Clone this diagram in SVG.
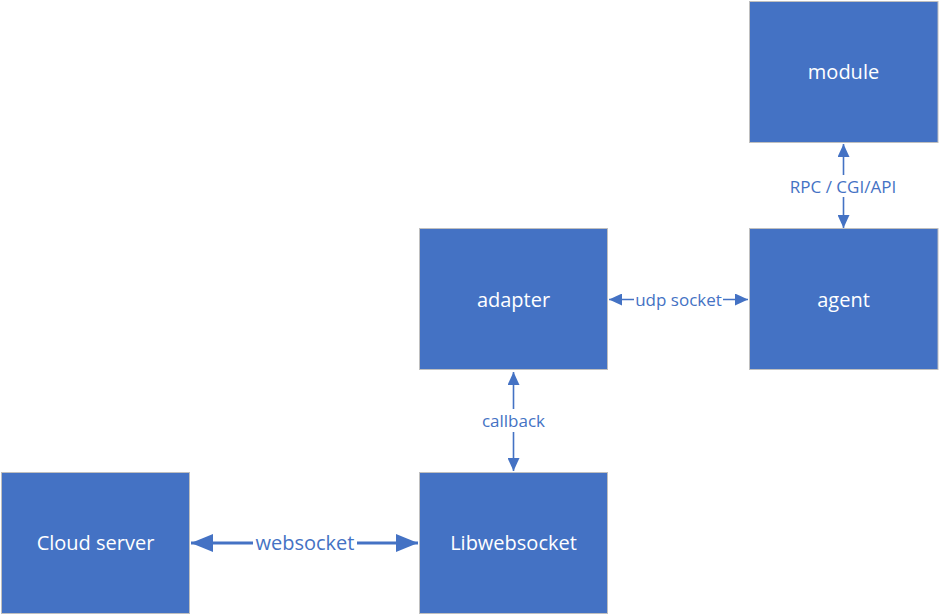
<svg xmlns="http://www.w3.org/2000/svg" width="939" height="615" viewBox="0 0 939 615">
  <style>
    .box { fill: #4472C4; stroke: #BFBFBF; stroke-width: 1; }
    .name { fill: #FFFFFF; font-family: "Open Sans", "Liberation Sans", sans-serif; font-size: 20px; text-anchor: middle; dominant-baseline: central; }
    .link { stroke: #4472C4; fill: none; }
    .thin { stroke-width: 1.6; }
    .thick { stroke-width: 3.2; }
    .lbl { fill: #4472C4; font-family: "Open Sans", "Liberation Sans", sans-serif; text-anchor: middle; dominant-baseline: central; }
    .lblbg { fill: #FFFFFF; }
  </style>
  <defs>
    <marker id="tip" viewBox="0 0 13 12" refX="13" refY="6" markerWidth="13" markerHeight="12" markerUnits="userSpaceOnUse" orient="auto-start-reverse">
      <path d="M0,0 L13,6 L0,12 Z" fill="#4472C4"/>
    </marker>
    <marker id="tipBig" viewBox="0 0 22 18" refX="22" refY="9" markerWidth="22" markerHeight="18" markerUnits="userSpaceOnUse" orient="auto-start-reverse">
      <path d="M0,0 L22,9 L0,18 Z" fill="#4472C4"/>
    </marker>
  </defs>

  <!-- connectors -->
  <g id="connectors">
    <line class="link thin" x1="843.5" y1="144" x2="843.5" y2="228" marker-start="url(#tip)" marker-end="url(#tip)"/>
    <rect class="lblbg" x="786" y="175" width="114" height="22"/>
    <text class="lbl" x="843" y="186" font-size="17">RPC / CGI/API</text>

    <line class="link thin" x1="609" y1="299.5" x2="748" y2="299.5" marker-start="url(#tip)" marker-end="url(#tip)"/>
    <rect class="lblbg" x="634" y="289" width="89" height="22"/>
    <text class="lbl" x="678.5" y="299.5" font-size="17">udp socket</text>

    <line class="link thin" x1="513.5" y1="372" x2="513.5" y2="471" marker-start="url(#tip)" marker-end="url(#tip)"/>
    <rect class="lblbg" x="479" y="409" width="69" height="23"/>
    <text class="lbl" x="513.5" y="420.5" font-size="17">callback</text>

    <line class="link thick" x1="191" y1="543" x2="418" y2="543" marker-start="url(#tipBig)" marker-end="url(#tipBig)"/>
    <rect class="lblbg" x="253" y="530" width="104" height="26"/>
    <text class="lbl" x="305" y="542.5" font-size="20">websocket</text>
  </g>

  <!-- nodes -->
  <g id="module">
    <rect class="box" x="749.5" y="1.5" width="188.5" height="141"/>
    <text class="name" x="843.5" y="71.5">module</text>
  </g>
  <g id="agent">
    <rect class="box" x="749.5" y="228.5" width="188.5" height="141"/>
    <text class="name" x="843.5" y="299.5">agent</text>
  </g>
  <g id="adapter">
    <rect class="box" x="419.5" y="228.5" width="188" height="141"/>
    <text class="name" x="513.5" y="299.5">adapter</text>
  </g>
  <g id="libwebsocket">
    <rect class="box" x="419.5" y="472.5" width="188" height="141"/>
    <text class="name" x="513.5" y="542.5">Libwebsocket</text>
  </g>
  <g id="cloud-server">
    <rect class="box" x="1.5" y="472.5" width="188" height="141"/>
    <text class="name" x="95.5" y="542.5">Cloud server</text>
  </g>
</svg>
